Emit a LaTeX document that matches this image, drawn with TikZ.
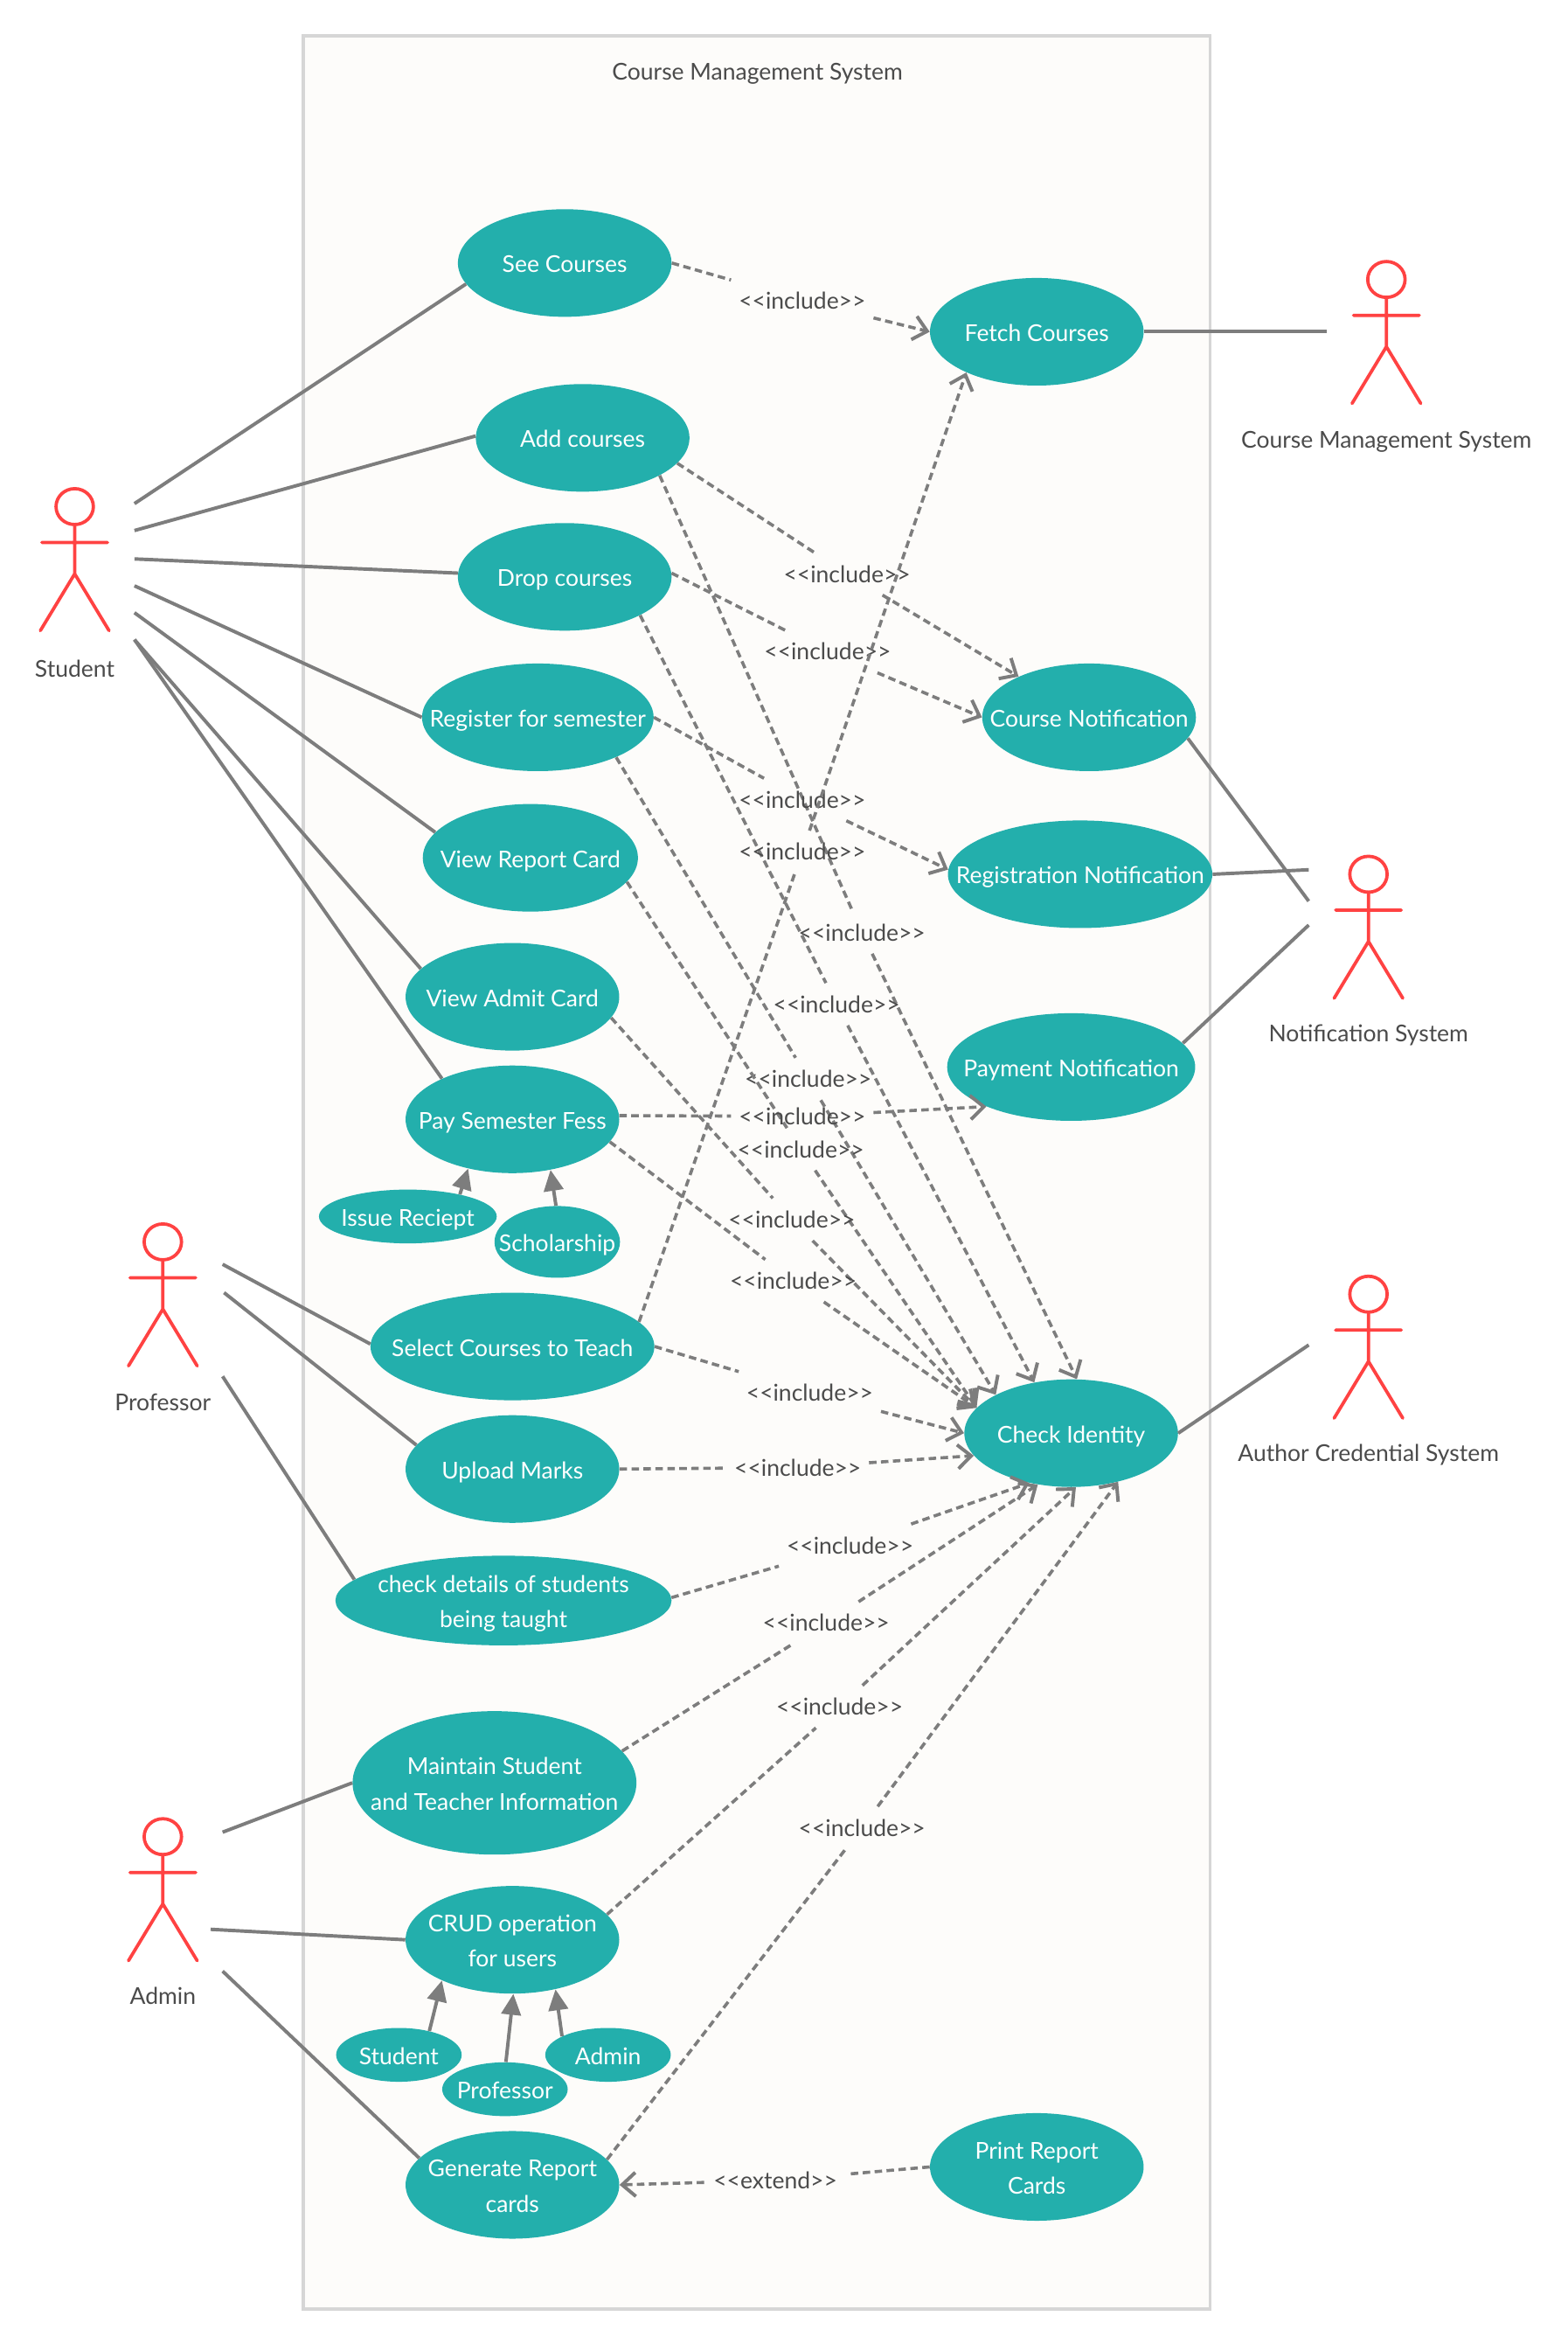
\documentclass[tikz,border=0pt]{standalone}
\usepackage{fontspec}
\setmainfont{Lato}
\usetikzlibrary{arrows.meta,shapes.geometric}
\definecolor{teal}{RGB}{35,175,172}
\definecolor{linegray}{RGB}{125,125,125}
\definecolor{actorred}{RGB}{255,66,66}
\definecolor{txtgray}{RGB}{75,75,75}
\definecolor{sysfill}{RGB}{253,252,250}
\definecolor{sysline}{RGB}{214,214,214}
\tikzset{
  uc/.style={ellipse,fill=teal,inner sep=0pt},
  uctext/.style={text=white,inner sep=0pt,align=center,yshift=-2.4pt,font=\fontsize{15.5}{23.7}\selectfont},
  actor/.style={draw=actorred,line width=2.2pt,line cap=round},
  actorlabel/.style={text=txtgray,yshift=-1.5pt,font=\fontsize{15.5}{20}\selectfont,inner sep=0pt},
  lbl/.style={rectangle,inner sep=0pt,minimum width=95pt,minimum height=28pt,text=txtgray,font=\fontsize{15.5}{20}\selectfont},
  assoc/.style={draw=linegray,line width=2.3pt},
  dep/.style={draw=linegray,line width=2.1pt,dash pattern=on 5pt off 3pt},
  openhead/.style={-{Straight Barb[length=9pt,width=16pt,line width=2.3pt]}},
  gen/.style={draw=linegray,line width=2.3pt,-{Triangle[length=14pt,width=13pt]}}
}
\newcommand{\ucstrut}{\rule[-3.5pt]{0pt}{15pt}}
\newcommand{\ucn}[5]{\node[uc,minimum width=#3pt,minimum height=#4pt,label={[uctext]center:{\ucstrut #5\ucstrut}}] (#1) at (#2) {};}
\newcommand{\actorat}[4]{%
  \begin{scope}[shift={(#2)}]
    \draw[actor] (0,0) ellipse [x radius=12.5,y radius=12];
    \draw[actor] (0,12) -- (0,45) (-22,24) -- (22,24) (-23,83) -- (0,45) -- (23,83);
  \end{scope}
  \node[actorlabel] (#1) at (#3) {#4};}
\newcommand{\inc}[5]{%
  \node[lbl] (#3) at (#4) {#5};
  \draw[dep] (#1) -- (#3);
  \draw[dep,openhead] (#3) -- (#2);}
\begin{document}
\begin{tikzpicture}[x=1pt,y=-1pt]
\useasboundingbox (0,0) rectangle (1049,1568.5);
\fill[white] (0,0) rectangle (1049,1568.5);
\node[draw=sysline,fill=sysfill,line width=2.3pt,rectangle,minimum width=607pt,minimum height=1521pt,inner sep=0pt] (sys) at (506.5,784.5) {};
\node[actorlabel] (systitle) at (507,48) {Course Management System};

% actors
\actorat{aStudent}{50,339}{50,446}{Student}
\actorat{aCMS}{928,187}{928,294}{Course Management System}
\actorat{aNotif}{916,585}{916,691}{Notification System}
\actorat{aAuth}{916,866}{916,972}{Author Credential System}
\actorat{aProf}{109,831}{109,937}{Professor}
\actorat{aAdmin}{109,1229}{109,1334}{Admin}

% use cases
\ucn{see}{378,176}{143}{72}{See Courses}
\ucn{add}{390,293}{143}{72}{Add courses}
\ucn{drop}{378,386}{143}{72}{Drop courses}
\ucn{reg}{360,480}{155}{72}{Register for semester}
\ucn{report}{355,574}{144}{72}{View Report Card}
\ucn{admit}{343,667}{143}{72}{View Admit Card}
\ucn{pay}{343,749}{143}{72}{Pay Semester Fess}
\ucn{issue}{273,814}{119}{36}{Issue Reciept}
\ucn{schol}{373,831}{84}{48}{Scholarship}
\ucn{select}{343,901}{190}{72}{Select Courses to Teach}
\ucn{upload}{343,983}{143}{72}{Upload Marks}
\ucn{details}{337,1071}{225}{60}{check details of students\\being taught}
\ucn{maintain}{331,1193}{190}{96}{Maintain Student\\and Teacher Information}
\ucn{crud}{343,1298}{143}{72}{CRUD operation\\for users}
\ucn{ustudent}{267,1375}{84}{36}{Student}
\ucn{uprof}{338,1398}{84}{36}{Professor}
\ucn{uadmin}{407,1375}{84}{36}{Admin}
\ucn{gen}{343,1462}{143}{72}{Generate Report\\cards}
\ucn{print}{694,1450}{143}{72}{Print Report\\Cards}
\ucn{fetch}{694,222}{143}{72}{Fetch Courses}
\ucn{cnotif}{729,480}{143}{72}{Course Notification}
\ucn{rnotif}{723,585}{177}{72}{Registration Notification}
\ucn{pnotif}{717,714}{166}{72}{Payment Notification}
\ucn{check}{717,959}{143}{72}{Check Identity}

% free ends of associations
\coordinate (s1) at (90,337);
\coordinate (s2) at (90,355);
\coordinate (s3) at (90,374);
\coordinate (s4) at (90,392);
\coordinate (s5) at (90,410);
\coordinate (s6) at (90,428);
\coordinate (cms) at (888,222);
\coordinate (n1) at (876,603);
\coordinate (n2) at (876,582);
\coordinate (n3) at (876,619);
\coordinate (au) at (876,900);
\coordinate (p1) at (149,846);
\coordinate (p2) at (150,865);
\coordinate (p3) at (149,921);
\coordinate (ad1) at (149,1226);
\coordinate (ad2) at (141,1291);
\coordinate (ad3) at (149,1319);

% associations
\draw[assoc] (s1) -- (see.192.7);
\draw[assoc] (s2) -- (add.179);
\draw[assoc] (s3) -- (drop.178);
\draw[assoc] (s4) -- (reg.180);
\draw[assoc] (s5) -- (report.165);
\draw[assoc] (s6) -- (admit.163.6);
\draw[assoc] (s6) -- (pay.150);
\draw[assoc] (fetch.0) -- (cms);
\draw[assoc] (cnotif.-12.7) -- (n1);
\draw[assoc] (rnotif.0) -- (n2);
\draw[assoc] (pnotif.12) -- (n3);
\draw[assoc] (check.0) -- (au);
\draw[assoc] (p1) -- (select.179);
\draw[assoc] (p2) -- (upload.166.6);
\draw[assoc] (p3) -- (details.172.6);
\draw[assoc] (ad1) -- (maintain.180);
\draw[assoc] (ad2) -- (crud.180);
\draw[assoc] (ad3) -- (gen.164.4);

% generalisations
\draw[gen] (issue.23) -- (pay.228);
\draw[gen] (schol.92) -- (pay.307);
\draw[gen] (ustudent.38.5) -- (crud.210);
\draw[gen] (uprof.88) -- (crud.271);
\draw[gen] (uadmin.158) -- (crud.311);

% include / extend
\inc{see.0}{fetch.180}{l1}{537,201}{<{}<include>{}>}
\inc{add.-15}{cnotif.150}{l2}{567,384}{<{}<include>{}>}
\inc{add.-26.6}{check.84}{l3}{577,624}{<{}<include>{}>}
\inc{drop.2}{cnotif.180}{l4}{554,436}{<{}<include>{}>}
\inc{drop.-27}{check.126}{l5}{560,672}{<{}<include>{}>}
\inc{reg.0}{rnotif.178}{l6}{537,535}{<{}<include>{}>}
\inc{reg.-27}{check.153}{l7}{541,722}{<{}<include>{}>}
\inc{report.-14.7}{check.165}{l8}{536,769}{<{}<include>{}>}
\inc{admit.-12.8}{check.165}{l9}{530,816}{<{}<include>{}>}
\inc{pay.2}{pnotif.205}{l10}{537,747}{<{}<include>{}>}
\inc{pay.-13}{check.165}{l11}{531,857}{<{}<include>{}>}
\inc{select.11}{fetch.210.6}{l12}{537,570}{<{}<include>{}>}
\inc{select.0}{check.180}{l13}{542,932}{<{}<include>{}>}
\inc{upload.0}{check.193.6}{l14}{534,982}{<{}<include>{}>}
\inc{details.1}{check.230.7}{l15}{569,1034}{<{}<include>{}>}
\inc{maintain.14}{check.237}{l16}{553,1086}{<{}<include>{}>}
\inc{crud.15}{check.275}{l17}{562,1142}{<{}<include>{}>}
\inc{gen.15}{check.314}{l18}{577,1223}{<{}<include>{}>}
\inc{print.180}{gen.0}{l19}{519,1459}{<{}<extend>{}>}
\end{tikzpicture}
\end{document}
